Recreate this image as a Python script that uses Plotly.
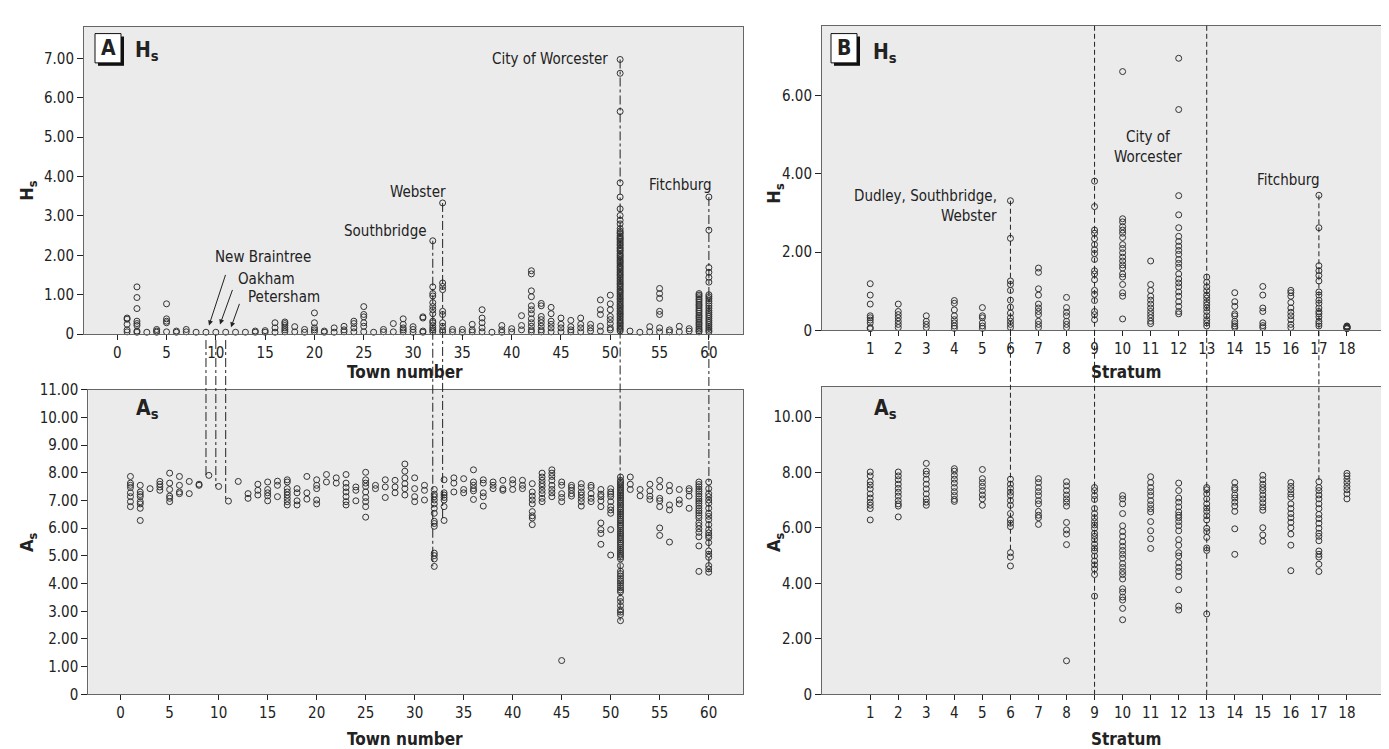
import plotly.graph_objects as go

# ---------------- data ----------------
town_ticks = [0, 5, 10, 15, 20, 25, 30, 35, 40, 45, 50, 55, 60]
strata = list(range(1, 19))

# Hs values per town (index = town number)
town_hs = [
    [],
    [0.41, 0.38, 0.25, 0.11, 0.06],
    [1.2, 0.93, 0.65, 0.33, 0.27, 0.22, 0.08, 0.05],
    [0.05],
    [0.12, 0.08, 0.05],
    [0.77, 0.39, 0.33, 0.29, 0.06],
    [0.08, 0.05],
    [0.12, 0.06],
    [0.05],
    [0.05],
    [0.05],
    [0.05],
    [0.05],
    [0.05],
    [0.08, 0.05],
    [0.09, 0.05],
    [0.29, 0.16, 0.05],
    [0.31, 0.27, 0.22, 0.16, 0.11, 0.06],
    [0.19, 0.06],
    [0.12, 0.05],
    [0.54, 0.29, 0.16, 0.11, 0.06],
    [0.08, 0.05],
    [0.16, 0.05],
    [0.2, 0.11, 0.06],
    [0.33, 0.27, 0.16, 0.06],
    [0.7, 0.5, 0.44, 0.29, 0.2, 0.06],
    [0.05],
    [0.12, 0.06],
    [0.27, 0.06],
    [0.39, 0.25, 0.16, 0.11, 0.06],
    [0.19, 0.12, 0.05],
    [0.44, 0.41, 0.08, 0.05],
    [2.37, 1.2, 1.03, 0.97, 0.8, 0.7, 0.62, 0.52, 0.33, 0.29, 0.22, 0.16, 0.11, 0.06],
    [3.33, 1.3, 1.21, 1.13, 0.58, 0.5, 0.29, 0.2, 0.11, 0.06],
    [0.12, 0.06],
    [0.12, 0.05],
    [0.25, 0.11, 0.06],
    [0.62, 0.41, 0.29, 0.16, 0.06],
    [0.05],
    [0.22, 0.11, 0.05],
    [0.14, 0.06],
    [0.47, 0.22, 0.11],
    [1.61, 1.53, 1.1, 0.95, 0.72, 0.62, 0.52, 0.39, 0.29, 0.2, 0.11, 0.06],
    [0.78, 0.72, 0.45, 0.37, 0.29, 0.2, 0.11, 0.06],
    [0.68, 0.52, 0.33, 0.25, 0.16, 0.06],
    [0.41, 0.25, 0.16, 0.06],
    [0.35, 0.19, 0.11, 0.06],
    [0.41, 0.25, 0.16, 0.06],
    [0.25, 0.16, 0.08],
    [0.87, 0.62, 0.5, 0.2, 0.08],
    [0.99, 0.77, 0.62, 0.45, 0.37, 0.27, 0.16, 0.11],
    [6.97, 6.62, 5.65, 3.84, 3.48, 3.18, 3.01, 2.89, 2.8, 2.68, 2.62, 2.58, 2.55, 2.5,
     2.46, 2.43, 2.4, 2.36, 2.32, 2.28, 2.25, 2.2, 2.17, 2.13, 2.1, 2.05, 2.01, 1.98,
     1.94, 1.9, 1.86, 1.83, 1.79, 1.75, 1.71, 1.68, 1.64, 1.6, 1.56, 1.52, 1.49, 1.45,
     1.41, 1.37, 1.33, 1.29, 1.26, 1.22, 1.18, 1.14, 1.1, 1.07, 1.03, 0.99, 0.95, 0.91,
     0.88, 0.84, 0.8, 0.76, 0.72, 0.69, 0.65, 0.61, 0.57, 0.53, 0.5, 0.46, 0.42, 0.38,
     0.34, 0.3, 0.27, 0.23, 0.19, 0.15, 0.12, 0.08],
    [0.08],
    [0.05],
    [0.19, 0.06],
    [1.16, 1.03, 0.91, 0.58, 0.5, 0.16, 0.06],
    [0.11, 0.06],
    [0.2, 0.06],
    [0.14, 0.08],
    [1.03, 0.99, 0.95, 0.9, 0.86, 0.81, 0.76, 0.72, 0.67, 0.62, 0.58, 0.53, 0.48, 0.44,
     0.4, 0.35, 0.3, 0.26, 0.22, 0.17, 0.13, 0.09, 0.06],
    [3.48, 2.64, 1.69, 1.57, 1.44, 1.32, 1.0, 0.95, 0.9, 0.84, 0.78, 0.72, 0.66, 0.6,
     0.55, 0.5, 0.45, 0.4, 0.35, 0.3, 0.25, 0.2, 0.15, 0.1, 0.06],
]

# As values per town (index = town number)
town_as = [
    [],
    [7.87, 7.63, 7.55, 7.47, 7.28, 7.14, 6.96, 6.78],
    [7.55, 7.31, 7.22, 7.14, 6.96, 6.88, 6.72, 6.28],
    [7.43],
    [7.69, 7.59, 7.49, 7.37],
    [7.99, 7.63, 7.40, 7.16, 7.08, 6.96],
    [7.87, 7.55, 7.31, 7.25],
    [7.69, 7.25],
    [7.59, 7.55],
    [7.91],
    [7.51],
    [6.98],
    [7.69],
    [7.25, 7.08],
    [7.59, 7.37, 7.20],
    [7.67, 7.40, 7.28, 7.17, 6.99],
    [7.70, 7.55, 7.14],
    [7.75, 7.67, 7.43, 7.31, 7.20, 7.08, 6.96, 6.84],
    [7.43, 7.28, 6.99, 6.84],
    [7.87, 7.28, 7.05],
    [7.75, 7.55, 7.43, 7.02, 6.88],
    [7.94, 7.67],
    [7.82, 7.63],
    [7.94, 7.63, 7.47, 7.31, 7.14, 6.96, 6.84],
    [7.49, 7.37, 6.99],
    [8.02, 7.75, 7.63, 7.51, 7.31, 7.11, 6.96, 6.78, 6.40],
    [7.55, 7.43],
    [7.75, 7.49, 7.11],
    [7.73, 7.49, 7.28],
    [8.32, 8.06, 7.82, 7.61, 7.43, 7.20],
    [7.82, 7.43, 7.14, 6.96],
    [7.55, 7.37, 7.02],
    [7.40, 7.23, 7.14, 7.02, 6.88, 6.72, 6.54, 6.25, 6.17, 6.07, 5.10, 5.01, 4.89, 4.62],
    [7.75, 7.28, 7.20, 7.11, 7.02, 6.78, 6.28],
    [7.82, 7.63, 7.31],
    [7.79, 7.40, 7.28],
    [8.11, 7.67, 7.55, 7.43, 7.35, 7.04],
    [7.75, 7.63, 7.28, 7.14, 6.80],
    [7.67, 7.55, 7.43],
    [7.73, 7.43, 7.37],
    [7.75, 7.61, 7.40],
    [7.73, 7.55, 7.43],
    [7.61, 7.31, 7.16, 7.02, 6.88, 6.60, 6.45, 6.37, 6.13],
    [7.99, 7.85, 7.73, 7.61, 7.51, 7.37, 7.25, 7.08, 6.96],
    [8.11, 7.99, 7.87, 7.73, 7.55, 7.40, 7.28, 7.14],
    [7.67, 7.55, 7.25, 7.11, 6.96, 1.22],
    [7.55, 7.47, 7.37, 7.25, 7.16],
    [7.61, 7.47, 7.31, 7.20, 7.08, 6.96, 6.80],
    [7.55, 7.47, 7.25, 7.08, 6.96],
    [7.40, 7.23, 7.14, 6.99, 6.78, 6.19, 5.95, 5.81, 5.42],
    [7.43, 7.31, 7.23, 7.14, 6.96, 6.78, 6.66, 6.54, 5.95, 5.03],
    [7.85, 7.73, 7.68, 7.62, 7.57, 7.5, 7.45, 7.39, 7.33, 7.27, 7.21, 7.15, 7.09, 7.03,
     6.97, 6.9, 6.84, 6.78, 6.71, 6.65, 6.58, 6.52, 6.45, 6.39, 6.32, 6.26, 6.19, 6.12,
     6.06, 5.99, 5.92, 5.85, 5.79, 5.72, 5.65, 5.58, 5.51, 5.45, 5.38, 5.31, 5.24, 5.17,
     5.1, 5.03, 4.96, 4.89, 4.65, 4.45, 4.36, 4.27, 4.18, 4.1, 4.02, 3.93, 3.85, 3.77,
     3.7, 3.47, 3.35, 3.2, 3.05, 2.97, 2.88, 2.66],
    [7.85, 7.59, 7.40],
    [7.40, 7.17],
    [7.59, 7.35, 7.16, 7.04],
    [7.73, 7.49, 7.08, 6.99, 6.78, 6.01, 5.74],
    [7.55, 7.35, 6.84, 6.66, 5.50],
    [7.40, 7.02, 6.88],
    [7.43, 7.35, 7.16, 6.72],
    [7.67, 7.58, 7.5, 7.41, 7.33, 7.24, 7.15, 7.06, 6.98, 6.9, 6.81, 6.72, 6.63, 6.55,
     6.46, 6.37, 6.2, 6.1, 5.98, 5.85, 5.69, 5.36, 4.44],
    [7.67, 7.43, 7.25, 7.14, 7.02, 6.9, 6.72, 6.54, 6.43, 6.31, 6.13, 5.95, 5.83, 5.74,
     5.66, 5.48, 5.18, 5.06, 4.95, 4.65, 4.53, 4.41],
]

# Hs values per stratum (1..18)
stratum_hs = [
    [1.19, 0.9, 0.67, 0.37, 0.32, 0.26, 0.19, 0.07, 0.04],
    [0.67, 0.48, 0.4, 0.32, 0.23, 0.15, 0.07],
    [0.37, 0.23, 0.15, 0.07],
    [0.76, 0.69, 0.52, 0.37, 0.27, 0.19, 0.11, 0.05],
    [0.58, 0.37, 0.32, 0.19, 0.11, 0.05],
    [3.31, 2.35, 1.26, 1.17, 1.02, 0.77, 0.59, 0.44, 0.32, 0.23, 0.15, 0.07],
    [1.59, 1.48, 1.06, 0.9, 0.67, 0.57, 0.48, 0.4, 0.23, 0.15, 0.07],
    [0.84, 0.58, 0.46, 0.37, 0.23, 0.15, 0.07],
    [3.81, 3.16, 2.56, 2.48, 2.34, 2.19, 2.06, 1.96, 1.81, 1.52, 1.44, 1.29, 1.02, 0.92,
     0.76, 0.48, 0.4, 0.27],
    [6.61, 2.85, 2.77, 2.65, 2.56, 2.48, 2.37, 2.19, 2.09, 1.98, 1.87, 1.77, 1.67, 1.59,
     1.44, 1.36, 1.17, 0.96, 0.87, 0.29],
    [1.77, 1.17, 1.02, 0.87, 0.77, 0.67, 0.57, 0.48, 0.4, 0.32, 0.23, 0.17],
    [6.95, 5.64, 3.44, 2.95, 2.62, 2.4, 2.27, 2.15, 2.04, 1.94, 1.81, 1.71, 1.61, 1.44,
     1.31, 1.21, 1.11, 0.98, 0.87, 0.73, 0.61, 0.48, 0.42],
    [1.36, 1.23, 1.11, 1.01, 0.9, 0.82, 0.73, 0.65, 0.57, 0.48, 0.37, 0.27, 0.19, 0.11],
    [0.96, 0.73, 0.61, 0.42, 0.37, 0.23, 0.17, 0.11, 0.07],
    [1.12, 0.9, 0.57, 0.48, 0.19, 0.12, 0.07],
    [1.02, 0.96, 0.87, 0.71, 0.57, 0.46, 0.37, 0.27, 0.15, 0.07],
    [3.45, 2.62, 1.65, 1.52, 1.4, 1.26, 0.98, 0.9, 0.77, 0.69, 0.57, 0.48, 0.42, 0.34,
     0.23, 0.17, 0.11],
    [0.11, 0.1, 0.09, 0.08, 0.07, 0.06, 0.05, 0.04],
]

# As values per stratum (1..18)
stratum_as = [
    [8.02, 7.88, 7.67, 7.55, 7.41, 7.23, 7.08, 6.93, 6.82, 6.70, 6.29],
    [8.02, 7.88, 7.74, 7.58, 7.43, 7.29, 7.15, 6.99, 6.87, 6.79, 6.40],
    [8.33, 8.05, 7.94, 7.76, 7.58, 7.41, 7.23, 7.05, 6.93, 6.82],
    [8.14, 8.05, 7.90, 7.76, 7.62, 7.46, 7.31, 7.17, 7.03, 6.96],
    [8.11, 7.78, 7.64, 7.50, 7.35, 7.19, 7.05, 6.82],
    [7.76, 7.58, 7.43, 7.29, 7.17, 6.99, 6.82, 6.52, 6.29, 6.17, 6.05, 5.11, 4.95, 4.63],
    [7.78, 7.64, 7.46, 7.31, 7.17, 6.99, 6.87, 6.60, 6.46, 6.37, 6.13],
    [7.67, 7.52, 7.35, 7.19, 7.05, 6.93, 6.79, 6.20, 5.93, 5.78, 5.40, 1.21],
    [7.46, 7.35, 7.17, 7.03, 6.70, 6.52, 6.37, 6.23, 6.11, 5.99, 5.81, 5.70, 5.58, 5.42,
     5.28, 5.17, 4.99, 4.81, 4.67, 4.52, 4.32, 3.54],
    [7.17, 7.05, 6.87, 6.52, 6.08, 5.87, 5.70, 5.50, 5.34, 5.19, 5.05, 4.91, 4.72, 4.58,
     4.43, 4.32, 4.16, 3.81, 3.69, 3.51, 3.40, 3.10, 2.69],
    [7.85, 7.64, 7.46, 7.31, 7.17, 6.99, 6.84, 6.70, 6.58, 6.23, 5.90, 5.61, 5.26],
    [7.62, 7.35, 7.08, 6.93, 6.76, 6.58, 6.46, 6.37, 6.23, 6.08, 5.90, 5.58, 5.38, 5.11,
     4.99, 4.75, 4.58, 4.43, 4.25, 3.77, 3.18, 3.04],
    [7.46, 7.38, 7.23, 7.05, 6.87, 6.72, 6.60, 6.44, 6.29, 5.99, 5.87, 5.66, 5.28, 5.19,
     2.90],
    [7.64, 7.46, 7.38, 7.19, 7.08, 6.93, 6.79, 6.60, 5.97, 5.05],
    [7.90, 7.74, 7.58, 7.46, 7.35, 7.19, 7.05, 6.91, 6.76, 6.64, 6.01, 5.75, 5.52],
    [7.64, 7.50, 7.38, 7.23, 7.11, 6.87, 6.70, 6.52, 6.37, 6.20, 6.01, 5.78, 5.38, 4.46],
    [7.67, 7.46, 7.35, 7.19, 7.05, 6.87, 6.70, 6.49, 6.34, 6.17, 5.99, 5.81, 5.70, 5.54,
     5.17, 5.05, 4.95, 4.69, 4.43],
    [7.97, 7.88, 7.76, 7.64, 7.50, 7.38, 7.23, 7.05],
]

linked_towns = [9, 10, 11, 32, 33, 51, 60]
# (stratum, Hs start, As end) for dashed connectors in panel B
linked_strata = [(6, 3.31, 5.11), (17, 3.45, 7.67)]
separator_strata = [9, 13]

hs_ticks_A = [0, 1, 2, 3, 4, 5, 6, 7]
as_ticks_A = [0, 1, 2, 3, 4, 5, 6, 7, 8, 9, 10, 11]
hs_ticks_B = [0, 2, 4, 6]
as_ticks_B = [0, 2, 4, 6, 8, 10]

# ---------------- layout helpers ----------------
W, H = 1389, 749
FONT = "Liberation Sans Narrow, DejaVu Sans Condensed, Arial Narrow, sans-serif"
INK = "#222222"
BG = "#ebebeb"


def px(x):
    return x / W


def py(y):
    return 1 - y / H


def fmt(v):
    return "0" if v == 0 else f"{v:.2f}"


# panel geometry in pixels: (left, right, top, bottom)
P_TL = (76, 735, 10, 325)
P_BL = (80.3, 735, 382, 694)
P_TR = (814, 1381, 9, 321)
P_BR = (814, 1381, 379, 694)

R_TL_X, R_TL_Y = [-3.37, 63.46], [0, 7.8]
R_BL_X, R_BL_Y = [-3.3, 63.5], [0, 11.0]
R_TR_X, R_TR_Y = [-0.72, 19.5], [0, 7.78]
R_BR_X, R_BR_Y = [-0.72, 19.5], [0, 11.09]


def dom(p):
    return [px(p[0]), px(p[1])], [py(p[3]), py(p[2])]


def val_to_paper(v, panel, rng):
    d = dom(panel)[1]
    return d[0] + (v - rng[0]) / (rng[1] - rng[0]) * (d[1] - d[0])


marker = dict(symbol="circle-open", size=6, color="#333333", line=dict(width=1, color="#333333"))

fig = go.Figure()


def flat(groups, keys):
    xs, ys = [], []
    for k, g in zip(keys, groups):
        xs += [k] * len(g)
        ys += g
    return xs, ys


x, y = flat(town_hs, range(len(town_hs)))
fig.add_trace(go.Scatter(x=x, y=y, mode="markers", marker=marker, xaxis="x", yaxis="y", cliponaxis=False))
x, y = flat(town_as, range(len(town_as)))
fig.add_trace(go.Scatter(x=x, y=y, mode="markers", marker=marker, xaxis="x2", yaxis="y2", cliponaxis=False))
x, y = flat(stratum_hs, strata)
fig.add_trace(go.Scatter(x=x, y=y, mode="markers", marker=marker, xaxis="x3", yaxis="y3", cliponaxis=False))
x, y = flat(stratum_as, strata)
fig.add_trace(go.Scatter(x=x, y=y, mode="markers", marker=marker, xaxis="x4", yaxis="y4", cliponaxis=False))


def xaxis(panel, rng, ticks):
    return dict(domain=dom(panel)[0], range=rng, tickvals=ticks, ticktext=[str(t) for t in ticks],
                showgrid=False, zeroline=False, showline=True, mirror=True, linecolor="#666666",
                linewidth=1, ticks="outside", ticklen=5, tickcolor=INK,
                tickfont=dict(family=FONT, size=15, color=INK), fixedrange=True)


def yaxis(panel, rng, ticks, anchor):
    return dict(domain=dom(panel)[1], range=rng, tickvals=ticks, ticktext=[fmt(t) for t in ticks],
                showgrid=False, zeroline=False, showline=True, mirror=True, linecolor="#666666",
                linewidth=1, ticks="outside", ticklen=6, tickcolor=INK, anchor=anchor,
                tickfont=dict(family=FONT, size=15, color=INK), fixedrange=True)


fig.update_layout(
    width=W, height=H, autosize=False,
    margin=dict(l=0, r=0, t=0, b=0),
    paper_bgcolor="white", plot_bgcolor=BG, showlegend=False,
    xaxis=dict(xaxis(P_TL, R_TL_X, town_ticks), anchor="y"),
    yaxis=yaxis(P_TL, R_TL_Y, hs_ticks_A, "x"),
    xaxis2=dict(xaxis(P_BL, R_BL_X, town_ticks), anchor="y2"),
    yaxis2=yaxis(P_BL, R_BL_Y, as_ticks_A, "x2"),
    xaxis3=dict(xaxis(P_TR, R_TR_X, strata), anchor="y3"),
    yaxis3=yaxis(P_TR, R_TR_Y, hs_ticks_B, "x3"),
    xaxis4=dict(xaxis(P_BR, R_BR_X, strata), anchor="y4"),
    yaxis4=yaxis(P_BR, R_BR_Y, as_ticks_B, "x4"),
)

shapes = []
# dash-dot connectors in panel A
for t in linked_towns:
    top_v = max(town_hs[t])
    y0 = val_to_paper(top_v, P_TL, R_TL_Y) if top_v > 0.1 else py(P_TL[3] + 6)
    y1 = val_to_paper(min(town_as[t]), P_BL, R_BL_Y)
    shapes.append(dict(type="line", xref="x", yref="paper", x0=t, x1=t, y0=y0, y1=y1,
                       line=dict(color=INK, width=1, dash="dashdot"), layer="above"))
# dashed separators and connectors in panel B
for s in separator_strata:
    shapes.append(dict(type="line", xref="x3", yref="paper", x0=s, x1=s,
                       y0=py(P_TR[2]), y1=py(P_BR[3]),
                       line=dict(color=INK, width=1, dash="5px,3px"), layer="above"))
for s, hs_v, as_v in linked_strata:
    shapes.append(dict(type="line", xref="x3", yref="paper", x0=s, x1=s,
                       y0=val_to_paper(hs_v, P_TR, R_TR_Y), y1=val_to_paper(as_v, P_BR, R_BR_Y),
                       line=dict(color=INK, width=1, dash="5px,3px"), layer="above"))
# panel letter boxes (shadow + box)
for bx in (87, 823):
    shapes.append(dict(type="rect", xref="paper", yref="paper", x0=px(bx + 3), x1=px(bx + 29),
                       y0=py(50), y1=py(20), fillcolor="#111111", line=dict(width=0)))
    shapes.append(dict(type="rect", xref="paper", yref="paper", x0=px(bx), x1=px(bx + 26),
                       y0=py(47), y1=py(17), fillcolor="white", line=dict(color="#111111", width=1)))
fig.update_layout(shapes=shapes)

ann = []


def text(t, x, y, size=15, bold=False, xanchor="center", angle=0):
    ann.append(dict(text=f"<b>{t}</b>" if bold else t, x=px(x), y=py(y), xref="paper", yref="paper",
                    xanchor=xanchor, yanchor="middle", showarrow=False, textangle=angle,
                    font=dict(family=FONT, size=size, color=INK)))


text("A", 100, 32, size=21, bold=True)
text("B", 836, 32, size=21, bold=True)
text("H<sub>s</sub>", 139, 35, size=21, bold=True)
text("A<sub>s</sub>", 139, 402, size=21, bold=True)
text("H<sub>s</sub>", 877, 37, size=21, bold=True)
text("A<sub>s</sub>", 877, 402, size=21, bold=True)

text("H<sub>s</sub>", 20, 178, size=18, bold=True, angle=-90)
text("A<sub>s</sub>", 20, 538, size=18, bold=True, angle=-90)
text("H<sub>s</sub>", 767, 180, size=18, bold=True, angle=-90)
text("A<sub>s</sub>", 767, 538, size=18, bold=True, angle=-90)

text("Town number", 397, 364, size=17, bold=True)
text("Town number", 397, 740, size=17, bold=True)
text("Stratum", 1118, 364, size=17, bold=True)
text("Stratum", 1118, 740, size=17, bold=True)

text("City of Worcester", 602, 43, xanchor="right")
text("Fitchburg", 706, 172, xanchor="right")
text("Webster", 440, 179, xanchor="right")
text("Southbridge", 421, 219, xanchor="right")
text("New Braintree", 205, 246, xanchor="left")
text("Oakham", 228, 268, xanchor="left")
text("Petersham", 238, 287, xanchor="left")

text("Dudley, Southbridge,", 991, 183, xanchor="right")
text("Webster", 991, 204, xanchor="right")
text("City of<br>Worcester", 1140, 133)
text("Fitchburg", 1280, 167)

for hx, hy, tx, ty in [(201, 316, 218, 264), (212, 315, 225, 279), (223, 318, 232, 293)]:
    ann.append(dict(text="", x=px(hx), y=py(hy), xref="paper", yref="paper", showarrow=True,
                    ax=tx - hx, ay=ty - hy, arrowhead=2, arrowsize=1, arrowwidth=1, arrowcolor=INK))

fig.update_layout(annotations=ann)

fig.write_html("out.html")
